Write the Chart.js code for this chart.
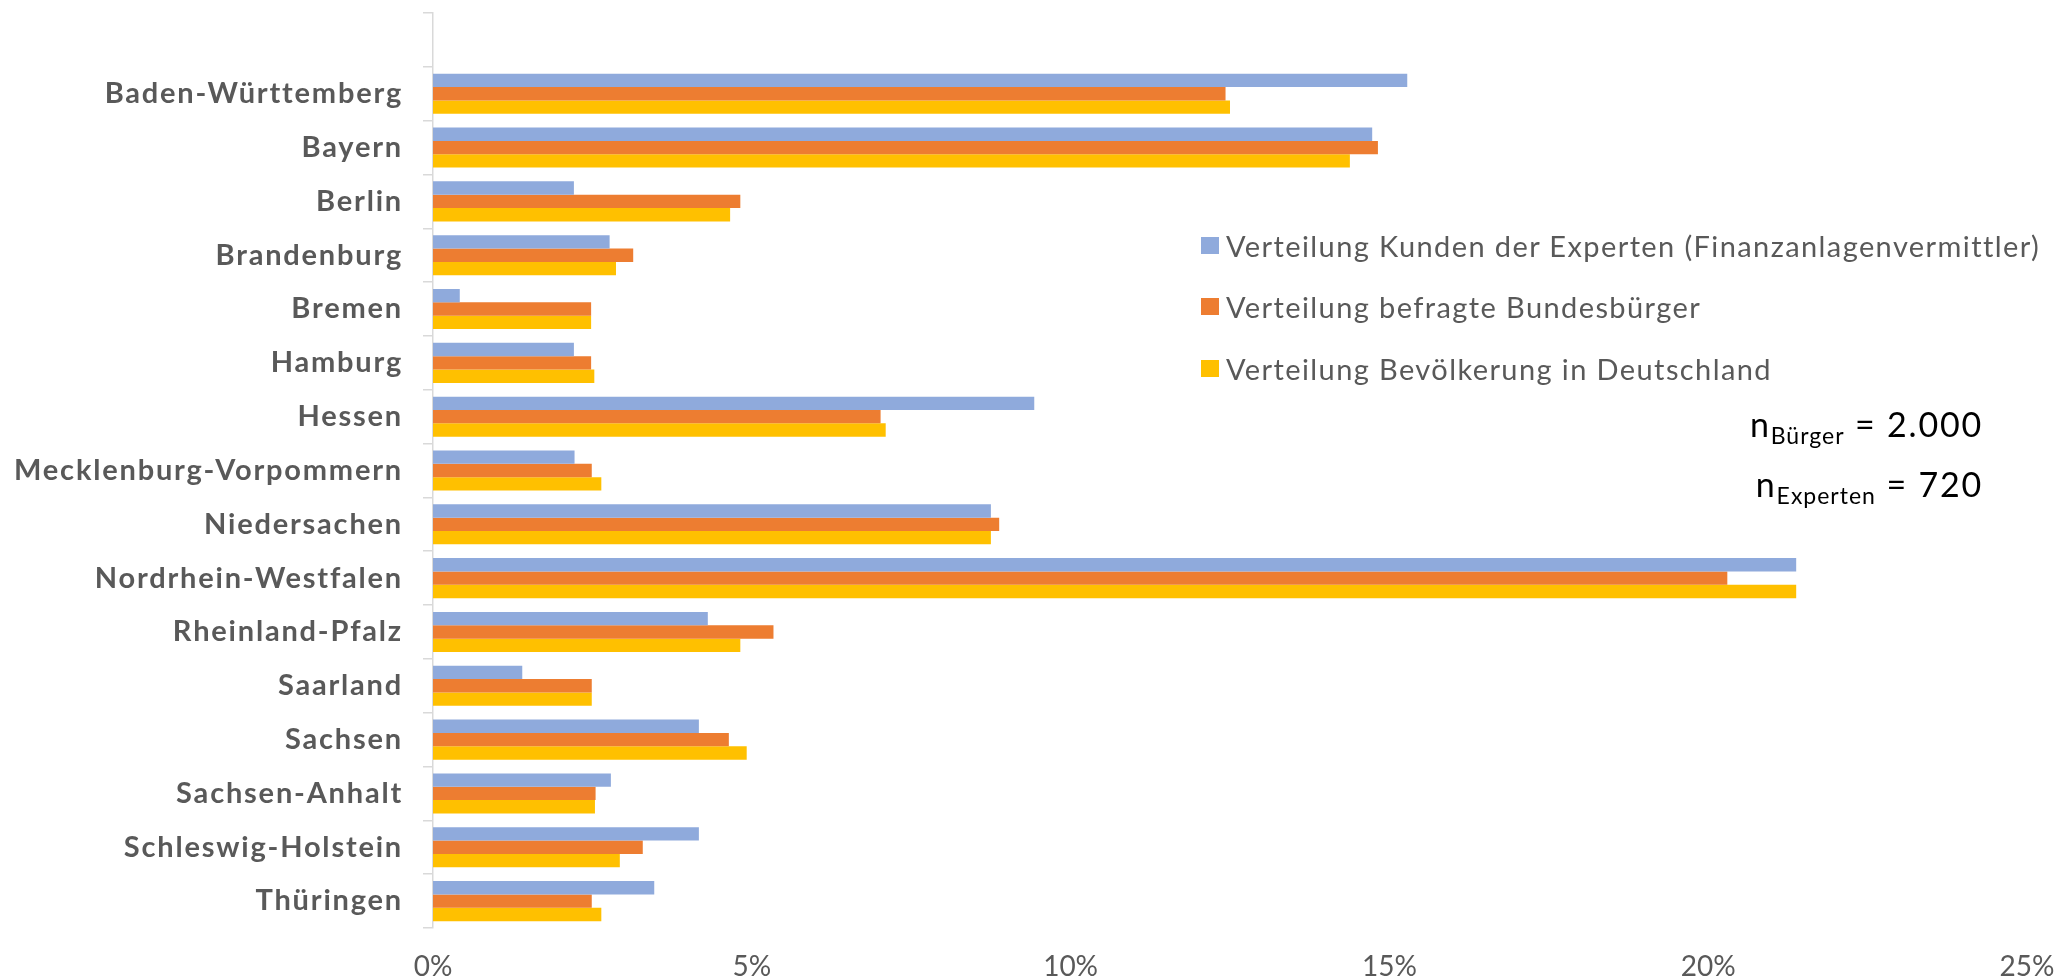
<!DOCTYPE html>
<html>
<head>
<meta charset="utf-8">
<script src="https://cdn.jsdelivr.net/npm/chart.js@4.4.1/dist/chart.umd.min.js"></script>
<style>
  html, body { margin: 0; padding: 0; background: #ffffff; }
  #wrap { position: relative; width: 2055px; height: 980px; overflow: hidden; }
  #c { position: absolute; left: 0; top: 0; }
  .leg { position: absolute; left: 1201px; font-family: Lato, sans-serif; font-size: 29px; letter-spacing: 1.4px; color: #595959; white-space: nowrap; line-height: 1; }
  .leg .sw { position: absolute; left: 0; width: 18px; height: 17px; }
  .leg .tx { position: absolute; left: 25px; }
  .nt { position: absolute; right: 72px; font-family: Lato, sans-serif; font-size: 34px; letter-spacing: 1.8px; color: #000; white-space: nowrap; line-height: 1; }
  .nt sub { font-size: 23px; vertical-align: -7px; line-height: 1; letter-spacing: 1px; }
</style>
</head>
<body>
<div id="wrap">
  <canvas id="c" width="2055" height="980"></canvas>
</div>
<script>
// ---- data ----
const categories = ['', 'Baden-Württemberg', 'Bayern', 'Berlin', 'Brandenburg', 'Bremen', 'Hamburg', 'Hessen',
  'Mecklenburg-Vorpommern', 'Niedersachen', 'Nordrhein-Westfalen', 'Rheinland-Pfalz', 'Saarland', 'Sachsen',
  'Sachsen-Anhalt', 'Schleswig-Holstein', 'Thüringen'];
const seriesNames = ['Verteilung Kunden der Experten (Finanzanlagenvermittler)', 'Verteilung befragte Bundesbürger', 'Verteilung Bevölkerung in Deutschland'];
const kundenExperten = [null, 15.28, 14.73, 2.21, 2.77, 0.42, 2.21, 9.43, 2.22, 8.75, 21.38, 4.31, 1.40, 4.17, 2.79, 4.17, 3.47];
const befragteBuerger = [null, 12.43, 14.82, 4.82, 3.14, 2.48, 2.48, 7.02, 2.49, 8.88, 20.30, 5.34, 2.49, 4.64, 2.55, 3.29, 2.49];
const bevoelkerung = [null, 12.50, 14.38, 4.66, 2.87, 2.48, 2.53, 7.10, 2.64, 8.75, 21.38, 4.82, 2.49, 4.92, 2.54, 2.93, 2.64];
const xTicks = [0, 5, 10, 15, 20, 25];
const seriesColors = ['#8FAADC', '#ED7D31', '#FFC000'];
const sampleNotes = [['n', 'Bürger', ' = 2.000'], ['n', 'Experten', ' = 720']];

// ---- html legend + notes ----
const wrap = document.getElementById('wrap');
const legTops = [231, 292, 354];
seriesNames.forEach((name, i) => {
  const d = document.createElement('div');
  d.className = 'leg';
  d.style.top = legTops[i] + 'px';
  const sw = document.createElement('span');
  sw.className = 'sw';
  sw.style.background = seriesColors[i];
  sw.style.top = '6px';
  const tx = document.createElement('span');
  tx.className = 'tx';
  tx.textContent = name;
  d.appendChild(sw); d.appendChild(tx);
  wrap.appendChild(d);
});
const noteTops = [407, 467];
sampleNotes.forEach((n, i) => {
  const d = document.createElement('div');
  d.className = 'nt';
  d.style.top = noteTops[i] + 'px';
  d.appendChild(document.createTextNode(n[0]));
  const s = document.createElement('sub');
  s.textContent = n[1];
  d.appendChild(s);
  d.appendChild(document.createTextNode(n[2]));
  wrap.appendChild(d);
});

const ySpacing = {
  id: 'ySpacing',
  afterLayout(chart) {
    const s = chart.scales.y;
    if (s && !s._spPatched) {
      const orig = s.drawLabels;
      s.drawLabels = function (area) {
        const c = this.ctx;
        const prev = c.letterSpacing;
        c.letterSpacing = '1.8px';
        orig.call(this, area);
        c.letterSpacing = prev || '0px';
      };
      s._spPatched = true;
    }
  }
};

function draw() {
  Chart.defaults.font.family = 'Lato, sans-serif';
  new Chart(document.getElementById('c'), {
    type: 'bar',
    data: {
      labels: categories,
      datasets: [
        { label: seriesNames[0], data: kundenExperten, backgroundColor: seriesColors[0] },
        { label: seriesNames[1], data: befragteBuerger, backgroundColor: seriesColors[1] },
        { label: seriesNames[2], data: bevoelkerung, backgroundColor: seriesColors[2] }
      ]
    },
    plugins: [ySpacing],
    options: {
      indexAxis: 'y',
      responsive: false,
      animation: false,
      maintainAspectRatio: false,
      layout: { padding: { top: 13, right: 28, left: 0, bottom: 0 } },
      datasets: { bar: { categoryPercentage: 0.745, barPercentage: 1.0, borderWidth: 0 } },
      plugins: { legend: { display: false }, tooltip: { enabled: false } },
      scales: {
        x: {
          type: 'linear',
          min: 0, max: 25,
          afterBuildTicks: (s) => { s.ticks = xTicks.map(v => ({ value: v })); },
          afterFit: (s) => { s.height = 52; s.paddingLeft = 0; s.paddingRight = 0; },
          grid: { display: false, drawTicks: false },
          border: { display: false },
          ticks: { padding: 22, color: '#595959', font: { size: 28 }, callback: (v) => v + '%' }
        },
        y: {
          type: 'category',
          afterFit: (s) => { s.width = 433; s.paddingTop = 0; s.paddingBottom = 0; },
          grid: { display: true, drawOnChartArea: false, drawTicks: true, tickLength: 10, color: '#D9D9D9', lineWidth: 1.5, offset: true },
          border: { display: true, color: '#D9D9D9', width: 1.5 },
          ticks: { padding: 20, color: '#595959', font: { size: 29, weight: 'bold' }, autoSkip: false }
        }
      }
    }
  });
}
Promise.all([document.fonts.load('bold 29px Lato'), document.fonts.load('28px Lato')]).then(draw, draw);
</script>
</body>
</html>
